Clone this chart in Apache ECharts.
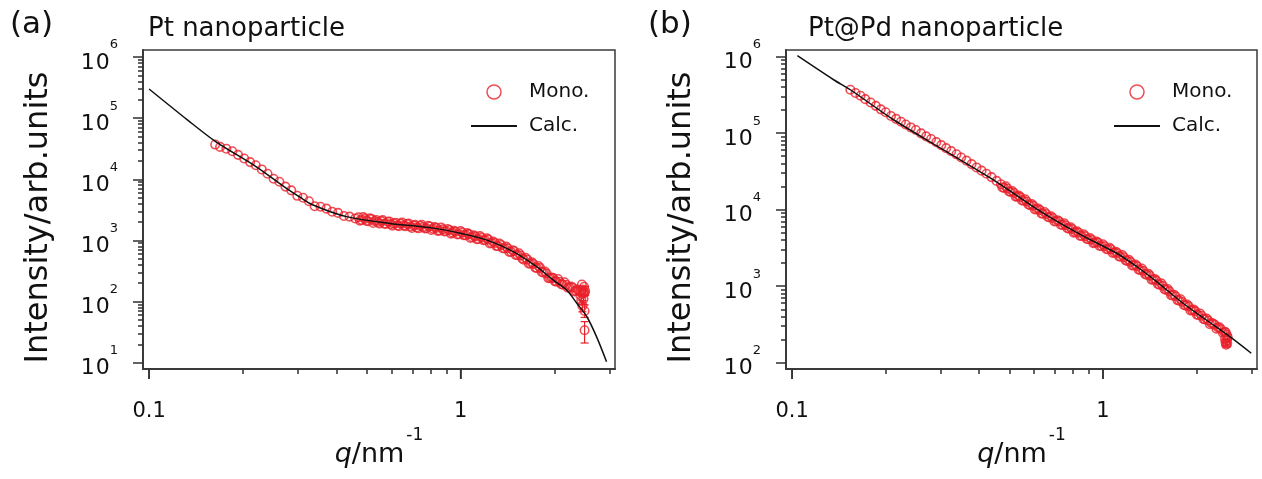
<!DOCTYPE html>
<html>
<head>
<meta charset="utf-8">
<script src="https://cdn.jsdelivr.net/npm/echarts@6/dist/echarts.min.js"></script>
<style>
html, body { margin: 0; padding: 0; background: #fff; }
#chart { width: 1262px; height: 479px; }
</style>
</head>
<body>
<div id="chart"></div>
<script>
// ---- measured SAXS profiles (q in nm^-1, intensity in arb. units) ----

// q grids of the high-q detector region (two interleaved frames)
const qHigh = [0.470, 0.481, 0.493, 0.505, 0.518, 0.530, 0.542, 0.556, 0.569, 0.583,
  0.597, 0.611, 0.627, 0.641, 0.658, 0.673, 0.690, 0.706, 0.723, 0.741,
  0.759, 0.778, 0.796, 0.815, 0.836, 0.855, 0.877, 0.897, 0.920, 0.942,
  0.964, 0.989, 1.012, 1.038, 1.062, 1.089, 1.114, 1.140, 1.169, 1.197,
  1.227, 1.256, 1.288, 1.318, 1.349, 1.384, 1.416, 1.452, 1.486, 1.521,
  1.560, 1.596, 1.637, 1.675, 1.714, 1.758, 1.799, 1.845, 1.888, 1.936,
  1.982, 2.028, 2.080, 2.128, 2.183, 2.234, 2.291, 2.344, 2.399, 2.460, 2.500];
const qHigh2 = [0.475, 0.487, 0.499, 0.511, 0.524, 0.536, 0.549, 0.562, 0.576, 0.590,
  0.604, 0.619, 0.634, 0.649, 0.665, 0.681, 0.698, 0.714, 0.732, 0.750,
  0.768, 0.787, 0.805, 0.825, 0.845, 0.866, 0.887, 0.908, 0.931, 0.953,
  0.976, 1.000, 1.025, 1.050, 1.075, 1.101, 1.127, 1.154, 1.183, 1.212,
  1.241, 1.272, 1.303, 1.333, 1.366, 1.400, 1.434, 1.469, 1.503, 1.540,
  1.578, 1.616, 1.656, 1.694, 1.736, 1.778, 1.822, 1.866, 1.912, 1.959,
  2.005, 2.054, 2.104, 2.155, 2.208, 2.262, 2.317, 2.371, 2.430, 2.480];

// (a) Pt nanoparticle, monodisperse measurement
const ptLowQ = [0.163, 0.169, 0.177, 0.185, 0.193, 0.202, 0.211, 0.220, 0.230, 0.240,
  0.251, 0.262, 0.274, 0.286, 0.299, 0.312, 0.326, 0.340, 0.355, 0.371,
  0.387, 0.404, 0.422, 0.440, 0.459];
const ptLowI = [37000, 33900, 31600, 28800, 25100, 21900, 19100, 17000, 14500, 12300,
  10200, 9100, 7600, 6600, 5370, 5000, 4370, 3630, 3550, 3310,
  2950, 2820, 2510, 2450, 2290];
const ptHighI = [2390, 2160, 2250, 2060, 2240, 2075, 2000, 2070, 1875, 2020,
  1850, 1890, 1760, 1885, 1755, 1855, 1690, 1760, 1625, 1740,
  1655, 1580, 1690, 1555, 1605, 1450, 1515, 1420, 1480, 1340,
  1385, 1265, 1335, 1220, 1270, 1130, 1165, 1055, 1105, 1015,
  1040, 908, 910, 805, 840, 740, 745, 650, 671, 581,
  566, 484, 489, 419, 411, 352, 356, 296, 288, 243,
  242, 212, 211, 189, 188, 170, 169, 149, 150, 158, 140];
const ptHigh2I = [2110, 2404, 2080, 2291, 1932, 2158, 1888, 2148, 1858, 2046,
  1738, 1945, 1710, 1959, 1702, 1884, 1600, 1795, 1578, 1807,
  1570, 1738, 1479, 1648, 1435, 1629, 1403, 1538, 1294, 1435,
  1250, 1419, 1213, 1318, 1099, 1211, 1047, 1178, 1007, 1086,
  891, 957, 809, 891, 745, 791, 646, 692, 577, 618,
  504, 521, 415, 438, 360, 382, 305, 310, 242, 248,
  216, 234, 193, 207, 169, 176, 147, 157, 148, 144];
const ptEndQ = [2.42, 2.44, 2.45, 2.46, 2.47, 2.48, 2.49, 2.50, 2.51, 2.50];
const ptEndI = [128, 105, 190, 85, 135, 110, 175, 70, 150, 34];
// error bars of the noisy last points
const ptErrQ = [2.44, 2.46, 2.48, 2.50, 2.50, 2.51];
const ptErrLo = [88, 68, 90, 55, 21, 125];
const ptErrHi = [124, 104, 132, 88, 47, 178];

// (a) calculated profile
const ptCalcQ = [0.100, 0.133, 0.164, 0.221, 0.276, 0.305, 0.336, 0.430, 0.593, 0.817,
  1.000, 1.210, 1.475, 1.754, 1.980, 2.190, 2.360, 2.540, 2.730, 2.940];
const ptCalcI = [300000, 93000, 41000, 16000, 7100, 5100, 3800, 2450, 1900, 1590,
  1310, 1020, 656, 372, 226, 155, 94, 57, 26.7, 10.4];

// (b) Pt@Pd nanoparticle, monodisperse measurement
const ptpdLowQ = [0.154, 0.160, 0.166, 0.172, 0.179, 0.186, 0.193, 0.200, 0.208, 0.216,
  0.224, 0.232, 0.241, 0.250, 0.260, 0.270, 0.280, 0.291, 0.302, 0.313,
  0.325, 0.338, 0.350, 0.364, 0.378, 0.392, 0.407, 0.422, 0.438, 0.455];
const ptpdLowI = [370000, 336000, 309000, 279000, 252000, 228000, 205000, 188000, 168000, 154000,
  141000, 130000, 119000, 110000, 99500, 91000, 84100, 76400, 69800, 63800,
  58300, 53000, 48100, 43800, 39500, 35700, 32400, 29500, 26700, 23800];
const ptpdHighI = [21500, 19300, 18970, 17020, 16560, 14860, 14690, 13090, 12820, 11460,
  11300, 10140, 9890, 8870, 8790, 7940, 7800, 7060, 7050, 6340,
  6270, 5640, 5610, 5080, 5000, 4530, 4520, 4110, 4060, 3700,
  3710, 3360, 3330, 3030, 3040, 2750, 2720, 2430, 2390, 2140,
  2080, 1870, 1830, 1630, 1585, 1400, 1375, 1215, 1185, 1045,
  1010, 895, 857, 759, 740, 649, 627, 555, 546, 484,
  472, 421, 411, 368, 356, 329, 313, 289, 274, 251, 234];
const ptpdHigh2I = [19500, 20230, 17300, 17540, 14830, 15280, 13180, 13710, 11720, 11890,
  10070, 10350, 8950, 9330, 8035, 8222, 7015, 7295, 6353, 6668,
  5741, 5875, 5023, 5212, 4550, 4786, 4150, 4276, 3664, 3828,
  3357, 3540, 3069, 3170, 2716, 2825, 2455, 2547, 2178, 2208,
  1866, 1914, 1644, 1702, 1442, 1452, 1216, 1239, 1064, 1089,
  916, 920, 762, 774, 659, 675, 570, 575, 483, 494,
  426, 440, 374, 378, 318, 324, 279, 290, 246, 251];
const ptpdEndQ = [2.47, 2.48, 2.49, 2.50, 2.51, 2.52];
const ptpdEndI = [205, 185, 172, 196, 178, 215];
const ptpdErrQ = [2.48, 2.49, 2.51, 2.52];
const ptpdErrLo = [170, 160, 165, 198];
const ptpdErrHi = [200, 185, 192, 232];

// (b) calculated profile
const ptpdCalcQ = [0.104, 0.136, 0.154, 0.212, 0.306, 0.444, 0.643, 0.850, 1.107, 1.283,
  1.488, 1.810, 2.150, 2.560, 3.000];
const ptpdCalcI = [1030000, 500000, 370000, 150000, 61000, 24600, 9000, 4680, 2700, 1810,
  1150, 599, 362, 219, 133];

// ---- axis ranges and ticks ----
const X_MIN = 0.0956, X_MAX = 3.13;
const Y_MIN_PT = 7.89, Y_MAX_PT = 1.303e6;
const Y_MIN_PTPD = 82.8, Y_MAX_PTPD = 1.224e6;
const xMajorTicks = [0.1, 1];
const xMinorTicks = [0.2, 0.3, 0.4, 0.5, 0.6, 0.7, 0.8, 0.9, 2, 3];
const yMajorTicksPt = [10, 100, 1000, 10000, 100000, 1000000];
const yMinorTicksPt = [20, 30, 40, 50, 60, 70, 80, 90,
  200, 300, 400, 500, 600, 700, 800, 900,
  2000, 3000, 4000, 5000, 6000, 7000, 8000, 9000,
  20000, 30000, 40000, 50000, 60000, 70000, 80000, 90000,
  200000, 300000, 400000, 500000, 600000, 700000, 800000, 900000];
const yMajorTicksPtPd = [100, 1000, 10000, 100000, 1000000];
const yMinorTicksPtPd = [200, 300, 400, 500, 600, 700, 800, 900,
  2000, 3000, 4000, 5000, 6000, 7000, 8000, 9000,
  20000, 30000, 40000, 50000, 60000, 70000, 80000, 90000,
  200000, 300000, 400000, 500000, 600000, 700000, 800000, 900000];

// ---- styling ----
const FONT = 'DejaVu Sans';
const RED = '#e8202a';
const AXIS = '#3a3a3a';
const TICK_COLOR = '#303030';
const INK = '#111';

const zip = (a, b) => a.map((v, i) => [v, b[i]]);

function xLabel(v) {
  const e = Math.log10(v);
  if (Math.abs(e - Math.round(e)) > 1e-6) return '';
  return Math.round(e) < 0 ? '0.1' : '1';
}
function yLabel(v) {
  const e = Math.log10(v);
  const r = Math.round(e);
  if (Math.abs(e - r) > 1e-6) return '';
  return '{a|1}{b|0}{s|' + r + '}';
}

// main x axis: frame line, labels, name and decade ticks
function makeXAxis(idx) {
  return {
    type: 'log', logBase: 10, gridIndex: idx, min: X_MIN, max: X_MAX, position: 'bottom',
    name: '{i|q}{r|/nm}{s|-1}', nameLocation: 'middle', nameGap: 67,
    nameTextStyle: {
      rich: {
        i: { fontFamily: FONT, fontSize: 27, fontStyle: 'italic', color: INK, lineHeight: 30 },
        r: { fontFamily: FONT, fontSize: 27, color: INK, lineHeight: 30 },
        s: { fontFamily: FONT, fontSize: 17, color: INK, lineHeight: 20, padding: [0, 0, 39, 2] }
      }
    },
    axisLine: { show: true, lineStyle: { color: AXIS, width: 2 } },
    axisTick: { show: true, inside: false, length: 10, customValues: xMajorTicks, lineStyle: { color: TICK_COLOR, width: 1.5 } },
    minorTick: { show: false },
    splitLine: { show: false },
    axisLabel: { formatter: xLabel, fontFamily: FONT, fontSize: 21, color: INK, margin: 32 }
  };
}
// overlay x axis carrying only the short intermediate ticks
function makeMinorXAxis(idx) {
  return {
    type: 'log', logBase: 10, gridIndex: idx, min: X_MIN, max: X_MAX, position: 'bottom',
    axisLine: { show: false },
    axisTick: { show: true, inside: false, length: 5, customValues: xMinorTicks, lineStyle: { color: TICK_COLOR, width: 1.5 } },
    axisLabel: { show: false },
    splitLine: { show: false }
  };
}
function makeYAxis(idx, min, max, major) {
  return {
    type: 'log', logBase: 10, gridIndex: idx, min: min, max: max, position: 'left',
    name: 'Intensity/arb.units', nameLocation: 'middle', nameRotate: 90, nameGap: 88,
    nameTextStyle: { fontFamily: FONT, fontSize: 32, color: INK, padding: [0, 16, 0, 0] },
    axisLine: { show: true, lineStyle: { color: AXIS, width: 2 } },
    axisTick: { show: true, inside: false, length: 10, customValues: major, lineStyle: { color: TICK_COLOR, width: 1.5 } },
    minorTick: { show: false },
    splitLine: { show: false },
    axisLabel: {
      formatter: yLabel, margin: 25,
      rich: {
        a: { fontFamily: FONT, fontSize: 22, color: INK, lineHeight: 22, padding: [12, 0, 0, 0] },
        b: { fontFamily: FONT, fontSize: 22, color: INK, lineHeight: 22, padding: [12, 0, 0, 1] },
        s: { fontFamily: FONT, fontSize: 13, color: INK, lineHeight: 14, padding: [0, 0, 24, 0] }
      }
    }
  };
}
// overlay y axis carrying only the short intermediate ticks
function makeMinorYAxis(idx, min, max, minor) {
  return {
    type: 'log', logBase: 10, gridIndex: idx, min: min, max: max, position: 'left',
    axisLine: { show: false },
    axisTick: { show: true, inside: false, length: 5, customValues: minor, lineStyle: { color: TICK_COLOR, width: 1.5 } },
    axisLabel: { show: false },
    splitLine: { show: false }
  };
}

function errorSeries(idx, q, lo, hi) {
  return {
    type: 'custom', xAxisIndex: idx, yAxisIndex: idx, silent: true, z: 3,
    data: q.map((v, i) => [v, lo[i], hi[i]]),
    renderItem: function (params, api) {
      const a = api.coord([api.value(0), api.value(1)]);
      const b = api.coord([api.value(0), api.value(2)]);
      const w = 4;
      const st = { stroke: RED, lineWidth: 1.2 };
      return {
        type: 'group', children: [
          { type: 'line', shape: { x1: a[0], y1: a[1], x2: b[0], y2: b[1] }, style: st },
          { type: 'line', shape: { x1: a[0] - w, y1: a[1], x2: a[0] + w, y2: a[1] }, style: st },
          { type: 'line', shape: { x1: b[0] - w, y1: b[1], x2: b[0] + w, y2: b[1] }, style: st }
        ]
      };
    }
  };
}

// decade tick marks on the lower frame edge, drawn through the series scales
function edgeMarkSeries(idx, values, edge) {
  return {
    type: 'custom', xAxisIndex: idx, yAxisIndex: idx, silent: true, clip: false, z: 5,
    data: values.map(v => [v, edge]),
    renderItem: function (params, api) {
      const p = api.coord([api.value(0), api.value(1)]);
      return { type: 'line', shape: { x1: p[0], y1: p[1], x2: p[0], y2: p[1] + 10 }, style: { stroke: TICK_COLOR, lineWidth: 1.5 } };
    }
  };
}

function monoSeries(idx, data) {
  return {
    name: 'Mono.', type: 'scatter', xAxisIndex: idx, yAxisIndex: idx, z: 3,
    symbol: 'circle', symbolSize: 8.5,
    itemStyle: { color: 'rgba(0,0,0,0)', borderColor: RED, borderWidth: 1.6 },
    data: data
  };
}
function calcSeries(idx, data) {
  return {
    name: 'Calc.', type: 'line', xAxisIndex: idx, yAxisIndex: idx, z: 4,
    symbol: 'none', smooth: 0.3,
    lineStyle: { color: INK, width: 1.5 },
    itemStyle: { color: INK },
    data: data
  };
}
function legendAt(left) {
  return {
    left: left, top: 82, padding: 0, orient: 'vertical', itemWidth: 46, itemHeight: 14, itemGap: 14,
    textStyle: { fontFamily: FONT, fontSize: 20, color: INK, padding: [0, 0, 0, 7] },
    data: [
      { name: 'Mono.', icon: 'circle', itemStyle: { color: 'rgba(0,0,0,0)', borderColor: RED, borderWidth: 1.5 } },
      { name: 'Calc.', itemStyle: { opacity: 0 } }
    ]
  };
}

const ptMono = zip(ptLowQ, ptLowI).concat(zip(qHigh, ptHighI), zip(qHigh2, ptHigh2I), zip(ptEndQ, ptEndI));
const ptpdMono = zip(ptpdLowQ, ptpdLowI).concat(zip(qHigh, ptpdHighI), zip(qHigh2, ptpdHigh2I), zip(ptpdEndQ, ptpdEndI));

const titleStyle = (size) => ({ fontFamily: FONT, fontSize: size, fontWeight: 'normal', color: INK });
const gridBase = { top: 50, height: 319, show: true, borderColor: AXIS, borderWidth: 1.5, backgroundColor: 'transparent', containLabel: false, outerBoundsMode: 'none' };

const option = {
  backgroundColor: '#fff',
  animation: false,
  title: [
    { text: '(a)', left: 10, top: 9, padding: 0, textStyle: titleStyle(31) },
    { text: 'Pt nanoparticle', left: 148, top: 16, padding: 0, textStyle: titleStyle(26) },
    { text: '(b)', left: 648, top: 9, padding: 0, textStyle: titleStyle(31) },
    { text: 'Pt@Pd nanoparticle', left: 808, top: 16, padding: 0, textStyle: titleStyle(26) }
  ],
  legend: [legendAt(470), legendAt(1113)],
  grid: [
    Object.assign({ left: 143, width: 472 }, gridBase),
    Object.assign({ left: 786, width: 471 }, gridBase)
  ],
  xAxis: [makeXAxis(0), makeXAxis(1), makeMinorXAxis(0), makeMinorXAxis(1)],
  yAxis: [
    makeYAxis(0, Y_MIN_PT, Y_MAX_PT, yMajorTicksPt), makeYAxis(1, Y_MIN_PTPD, Y_MAX_PTPD, yMajorTicksPtPd),
    makeMinorYAxis(0, Y_MIN_PT, Y_MAX_PT, yMinorTicksPt), makeMinorYAxis(1, Y_MIN_PTPD, Y_MAX_PTPD, yMinorTicksPtPd)
  ],
  series: [
    errorSeries(0, ptErrQ, ptErrLo, ptErrHi),
    monoSeries(0, ptMono),
    calcSeries(0, zip(ptCalcQ, ptCalcI)),
    edgeMarkSeries(0, xMajorTicks, Y_MIN_PT),

    errorSeries(1, ptpdErrQ, ptpdErrLo, ptpdErrHi),
    monoSeries(1, ptpdMono),
    calcSeries(1, zip(ptpdCalcQ, ptpdCalcI)),
    edgeMarkSeries(1, xMajorTicks, Y_MIN_PTPD)
  ]
};

const chart = echarts.init(document.getElementById('chart'), null, { renderer: 'canvas' });
chart.setOption(option);
</script>
</body>
</html>
